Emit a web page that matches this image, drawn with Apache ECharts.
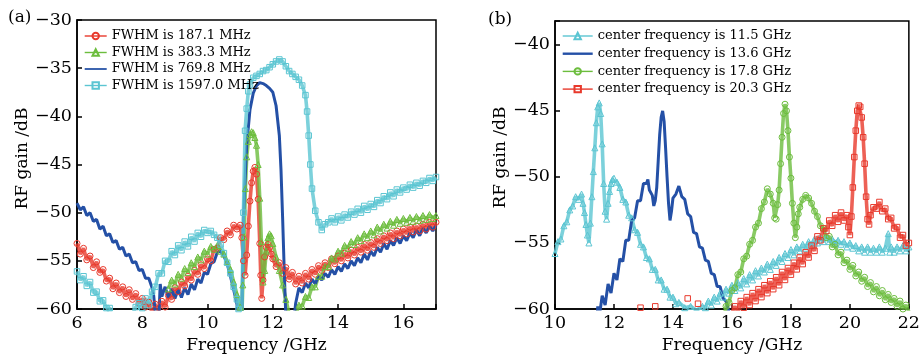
<!DOCTYPE html>
<html><head><meta charset="utf-8">
<script src="https://cdn.jsdelivr.net/npm/echarts@6/dist/echarts.min.js"></script>
<style>html,body{margin:0;padding:0;background:#fff}#c{width:923px;height:359px}</style>
</head><body><div id="c"></div><script>
// ---------- Panel (a): x = frequency (GHz), y = RF gain (dB) ----------
const namesA = ['FWHM is 187.1 MHz','FWHM is 383.3 MHz','FWHM is 769.8 MHz','FWHM is 1597.0 MHz'];
const fwhm187 = [[6.0,-53.2],[6.1,-54.3],[6.2,-53.7],[6.3,-54.9],[6.4,-54.5],[6.5,-55.7],[6.6,-55.1],[6.7,-56.2],[6.8,-55.9],[6.9,-57.1],[7.0,-56.8],[7.1,-57.9],[7.2,-57.3],[7.3,-58.3],[7.4,-57.7],[7.5,-58.7],[7.6,-58.0],[7.7,-59.0],[7.8,-58.4],[7.9,-59.4],[8.0,-58.9],[8.1,-59.8],[8.2,-59.3],[8.3,-60.4],[8.4,-59.5],[8.5,-60.2],[8.6,-59.2],[8.7,-59.8],[8.8,-58.6],[8.9,-59.0],[9.0,-57.8],[9.1,-58.2],[9.2,-57.2],[9.3,-57.6],[9.4,-56.6],[9.5,-57.0],[9.6,-56.0],[9.7,-56.4],[9.8,-55.4],[9.9,-55.8],[10.0,-54.8],[10.1,-55.0],[10.2,-53.8],[10.3,-53.7],[10.4,-52.6],[10.5,-52.8],[10.6,-51.9],[10.7,-52.3],[10.8,-51.3],[10.9,-51.7],[11.0,-51.3],[11.05,-52.6],[11.1,-55.0],[11.15,-56.5],[11.2,-54.4],[11.25,-51.4],[11.3,-48.8],[11.35,-46.9],[11.4,-45.7],[11.45,-45.3],[11.5,-46.0],[11.55,-48.6],[11.6,-53.2],[11.63,-56.5],[11.66,-58.9],[11.7,-57.0],[11.75,-54.6],[11.8,-53.6],[11.85,-53.3],[11.9,-53.6],[11.95,-54.3],[12.0,-54.8],[12.1,-55.6],[12.2,-55.2],[12.3,-56.3],[12.4,-55.7],[12.5,-56.9],[12.6,-56.2],[12.7,-57.4],[12.8,-56.6],[12.9,-57.3],[13.0,-56.3],[13.1,-56.9],[13.2,-55.9],[13.3,-56.4],[13.4,-55.5],[13.5,-56.0],[13.6,-55.2],[13.7,-55.7],[13.8,-54.8],[13.9,-55.3],[14.0,-54.5],[14.1,-55.0],[14.2,-54.2],[14.3,-54.7],[14.4,-53.9],[14.5,-54.4],[14.6,-53.6],[14.7,-54.1],[14.8,-53.3],[14.9,-53.9],[15.0,-53.1],[15.1,-53.6],[15.2,-52.7],[15.3,-53.2],[15.4,-52.4],[15.5,-52.9],[15.6,-52.1],[15.7,-52.7],[15.8,-51.9],[15.9,-52.4],[16.0,-51.7],[16.1,-52.2],[16.2,-51.5],[16.3,-52.0],[16.4,-51.4],[16.5,-51.9],[16.6,-51.2],[16.7,-51.7],[16.8,-51.0],[16.9,-51.5],[17.0,-51.0]];
const fwhm383 = [[8.8,-57.9],[8.9,-57.0],[9.0,-57.4],[9.1,-56.4],[9.2,-56.8],[9.3,-55.8],[9.4,-56.2],[9.5,-55.2],[9.6,-55.6],[9.7,-54.6],[9.8,-54.9],[9.9,-54.0],[10.0,-54.3],[10.1,-53.5],[10.2,-53.8],[10.3,-53.4],[10.4,-54.0],[10.5,-54.3],[10.6,-55.1],[10.7,-55.9],[10.8,-57.2],[10.9,-58.5],[11.0,-59.8],[11.05,-61],[11.08,-57.5],[11.12,-52.5],[11.16,-47.5],[11.2,-44.2],[11.25,-42.6],[11.3,-41.9],[11.35,-41.6],[11.4,-41.7],[11.45,-42.2],[11.5,-43.0],[11.55,-45.0],[11.6,-48.5],[11.65,-53.0],[11.7,-57.2],[11.75,-56.0],[11.8,-54.0],[11.85,-52.6],[11.9,-52.2],[11.95,-52.4],[12.0,-53.2],[12.1,-54.6],[12.2,-56.0],[12.3,-57.5],[12.4,-59.0],[12.5,-60.5],[12.6,-61.5],[12.7,-60.6],[12.8,-59.6],[12.9,-59.7],[13.0,-58.7],[13.1,-58.8],[13.2,-57.7],[13.3,-57.7],[13.4,-56.6],[13.5,-56.6],[13.6,-55.6],[13.7,-55.6],[13.8,-54.7],[13.9,-54.8],[14.0,-54.0],[14.1,-54.2],[14.2,-53.4],[14.3,-53.7],[14.4,-53.0],[14.5,-53.3],[14.6,-52.6],[14.7,-52.9],[14.8,-52.2],[14.9,-52.6],[15.0,-51.9],[15.1,-52.3],[15.2,-51.5],[15.3,-51.9],[15.4,-51.2],[15.5,-51.6],[15.6,-50.9],[15.7,-51.3],[15.8,-50.7],[15.9,-51.1],[16.0,-50.6],[16.1,-51.0],[16.2,-50.5],[16.3,-50.9],[16.4,-50.4],[16.5,-50.8],[16.6,-50.3],[16.7,-50.7],[16.8,-50.2],[16.9,-50.6],[17.0,-50.3]];
const fwhm770 = [[6.0,-49.0],[6.1,-49.7],[6.2,-49.4],[6.3,-50.3],[6.4,-50.0],[6.5,-50.9],[6.6,-50.7],[6.7,-51.7],[6.8,-51.4],[6.9,-52.4],[7.0,-52.2],[7.1,-53.1],[7.2,-52.9],[7.3,-53.8],[7.4,-53.6],[7.5,-54.5],[7.6,-54.3],[7.7,-55.2],[7.8,-55.1],[7.9,-56.0],[8.0,-55.9],[8.1,-56.8],[8.2,-56.8],[8.3,-57.8],[8.35,-58.6],[8.4,-60.5],[8.5,-61.5],[8.55,-57.4],[8.6,-58.7],[8.7,-57.7],[8.8,-58.8],[8.9,-57.9],[9.0,-58.9],[9.1,-58.0],[9.2,-58.8],[9.3,-57.8],[9.4,-58.5],[9.5,-57.4],[9.6,-58.0],[9.7,-56.9],[9.8,-57.3],[9.9,-56.2],[10.0,-56.4],[10.1,-55.3],[10.2,-55.1],[10.3,-54.1],[10.4,-54.0],[10.5,-54.5],[10.6,-55.3],[10.7,-56.6],[10.8,-58.0],[10.9,-59.5],[10.95,-61],[11.0,-62],[11.05,-61],[11.1,-50.5],[11.15,-46.6],[11.2,-43.0],[11.3,-39.3],[11.4,-37.6],[11.5,-36.8],[11.6,-36.5],[11.7,-36.6],[11.8,-36.8],[11.9,-37.1],[12.0,-37.5],[12.1,-38.9],[12.2,-42.0],[12.25,-45.5],[12.3,-50.5],[12.35,-56.0],[12.4,-61],[12.5,-62],[12.65,-61],[12.7,-59.4],[12.8,-57.8],[12.9,-58.3],[13.0,-57.3],[13.1,-57.8],[13.2,-56.9],[13.3,-57.4],[13.4,-56.6],[13.5,-57.0],[13.6,-56.3],[13.7,-56.7],[13.8,-55.9],[13.9,-56.4],[14.0,-55.6],[14.1,-56.1],[14.2,-55.3],[14.3,-55.8],[14.4,-55.0],[14.5,-55.5],[14.6,-54.7],[14.7,-55.2],[14.8,-54.3],[14.9,-54.9],[15.0,-54.0],[15.1,-54.5],[15.2,-53.6],[15.3,-54.1],[15.4,-53.2],[15.5,-53.8],[15.6,-52.9],[15.7,-53.4],[15.8,-52.6],[15.9,-53.2],[16.0,-52.4],[16.1,-52.9],[16.2,-52.1],[16.3,-52.6],[16.4,-51.8],[16.5,-52.4],[16.6,-51.6],[16.7,-52.1],[16.8,-51.4],[16.9,-51.9],[17.0,-51.3]];
const fwhm1597 = [[6.0,-56.1],[6.1,-57.0],[6.2,-56.6],[6.3,-57.6],[6.4,-57.2],[6.5,-58.3],[6.6,-58.2],[6.7,-59.2],[6.8,-59.1],[6.9,-59.9],[7.0,-59.9],[7.1,-60.6],[7.2,-61.2],[7.4,-61.5],[7.6,-61.2],[7.7,-60.5],[7.8,-59.8],[7.9,-59.4],[8.0,-59.9],[8.1,-58.9],[8.2,-59.6],[8.3,-58.2],[8.4,-57.7],[8.5,-56.3],[8.6,-56.3],[8.7,-55.0],[8.8,-55.1],[8.9,-54.0],[9.0,-54.4],[9.1,-53.4],[9.2,-53.9],[9.3,-53.0],[9.4,-53.5],[9.5,-52.5],[9.6,-53.0],[9.7,-52.1],[9.8,-52.5],[9.9,-51.8],[10.0,-52.1],[10.1,-51.9],[10.2,-52.3],[10.3,-52.6],[10.4,-53.3],[10.5,-54.2],[10.6,-55.2],[10.7,-56.3],[10.8,-57.7],[10.9,-59.0],[10.95,-60.0],[11.0,-61],[11.05,-60.5],[11.1,-50.0],[11.15,-41.5],[11.2,-39.2],[11.25,-37.4],[11.3,-36.7],[11.4,-36.0],[11.5,-35.8],[11.6,-35.6],[11.7,-35.3],[11.8,-35.2],[11.9,-34.9],[12.0,-34.6],[12.1,-34.3],[12.2,-34.1],[12.3,-34.3],[12.4,-34.8],[12.5,-35.3],[12.6,-35.6],[12.7,-35.9],[12.8,-36.2],[12.9,-36.8],[13.0,-37.8],[13.05,-39.5],[13.1,-42.0],[13.15,-45.0],[13.2,-47.5],[13.3,-49.8],[13.4,-51.0],[13.5,-51.8],[13.6,-51.2],[13.7,-51.0],[13.8,-50.6],[13.9,-51.0],[14.0,-50.4],[14.1,-50.8],[14.2,-50.2],[14.3,-50.5],[14.4,-49.9],[14.5,-50.2],[14.6,-49.6],[14.7,-50.0],[14.8,-49.3],[14.9,-49.7],[15.0,-49.1],[15.1,-49.4],[15.2,-48.7],[15.3,-49.0],[15.4,-48.3],[15.5,-48.6],[15.6,-47.9],[15.7,-48.3],[15.8,-47.6],[15.9,-47.9],[16.0,-47.4],[16.1,-47.6],[16.2,-47.1],[16.3,-47.4],[16.4,-46.9],[16.5,-47.2],[16.6,-46.7],[16.7,-46.9],[16.8,-46.4],[16.9,-46.7],[17.0,-46.3]];

// ---------- Panel (b) ----------
const namesB = ['center frequency is 11.5 GHz','center frequency is 13.6 GHz','center frequency is 17.8 GHz','center frequency is 20.3 GHz'];
const cf115 = [[10.0,-55.8],[10.1,-54.9],[10.2,-54.7],[10.3,-53.7],[10.4,-53.4],[10.5,-52.5],[10.6,-52.2],[10.7,-51.5],[10.8,-51.7],[10.9,-51.3],[10.95,-52.0],[11.0,-52.7],[11.05,-53.6],[11.1,-54.4],[11.15,-55.0],[11.2,-53.5],[11.25,-51.5],[11.3,-49.6],[11.35,-47.8],[11.4,-45.9],[11.45,-44.7],[11.5,-44.4],[11.55,-45.2],[11.6,-47.5],[11.65,-50.5],[11.7,-52.6],[11.75,-53.2],[11.8,-52.0],[11.85,-51.1],[11.9,-50.5],[11.95,-50.2],[12.0,-50.1],[12.1,-50.4],[12.2,-50.8],[12.3,-51.7],[12.4,-51.9],[12.5,-52.9],[12.6,-53.1],[12.7,-54.0],[12.8,-54.2],[12.9,-55.1],[13.0,-55.3],[13.1,-56.1],[13.2,-56.2],[13.3,-57.0],[13.4,-57.0],[13.5,-57.8],[13.6,-57.8],[13.7,-58.5],[13.8,-58.5],[13.9,-59.1],[14.0,-59.1],[14.1,-59.6],[14.2,-59.5],[14.4,-59.9],[14.6,-59.8],[14.8,-60.1],[15.0,-59.8],[15.1,-59.9],[15.2,-59.4],[15.3,-59.7],[15.4,-59.1],[15.5,-59.4],[15.6,-58.8],[15.7,-59.1],[15.8,-58.5],[15.9,-58.8],[16.0,-58.2],[16.1,-58.6],[16.2,-58.0],[16.3,-58.4],[16.4,-57.7],[16.5,-58.1],[16.6,-57.4],[16.7,-57.8],[16.8,-57.1],[16.9,-57.5],[17.0,-56.9],[17.1,-57.2],[17.2,-56.6],[17.3,-57.0],[17.4,-56.4],[17.5,-56.7],[17.6,-56.1],[17.7,-56.4],[17.8,-55.8],[17.9,-56.1],[18.0,-55.5],[18.1,-55.9],[18.2,-55.3],[18.3,-55.6],[18.4,-55.1],[18.5,-55.4],[18.6,-54.9],[18.7,-55.2],[18.8,-54.7],[18.9,-55.0],[19.0,-54.6],[19.1,-54.9],[19.2,-54.6],[19.3,-54.9],[19.4,-54.7],[19.5,-55.0],[19.6,-54.8],[19.7,-55.1],[19.8,-54.9],[19.9,-55.3],[20.0,-55.0],[20.1,-55.4],[20.2,-55.2],[20.3,-55.6],[20.4,-55.3],[20.5,-55.7],[20.6,-55.3],[20.7,-55.7],[20.8,-55.4],[20.9,-55.7],[21.0,-55.3],[21.1,-55.7],[21.2,-55.4],[21.3,-54.3],[21.35,-55.7],[21.4,-55.3],[21.5,-55.7],[21.6,-55.3],[21.7,-55.6],[21.8,-55.2],[21.9,-55.6],[22.0,-55.3]];
const cf136 = [[11.4,-61.5],[11.45,-59.8],[11.5,-60.6],[11.6,-59.0],[11.7,-59.7],[11.8,-58.1],[11.9,-58.8],[12.0,-57.3],[12.1,-57.8],[12.2,-56.2],[12.3,-56.4],[12.4,-54.8],[12.5,-54.8],[12.6,-53.3],[12.7,-53.1],[12.8,-51.8],[12.9,-51.8],[13.0,-50.5],[13.1,-50.5],[13.15,-50.2],[13.2,-51.0],[13.3,-51.4],[13.35,-52.2],[13.4,-51.8],[13.45,-50.8],[13.5,-48.8],[13.55,-46.8],[13.6,-45.5],[13.65,-45.0],[13.7,-45.8],[13.75,-47.8],[13.8,-50.0],[13.85,-52.0],[13.9,-53.3],[13.95,-52.6],[14.0,-51.6],[14.1,-51.3],[14.2,-50.7],[14.3,-51.5],[14.4,-51.7],[14.5,-52.8],[14.6,-53.0],[14.7,-54.2],[14.8,-54.3],[14.9,-55.3],[15.0,-55.4],[15.1,-56.3],[15.2,-56.4],[15.3,-57.3],[15.4,-57.4],[15.5,-58.3],[15.6,-58.3],[15.7,-59.2],[15.8,-59.4],[15.9,-60.2],[16.0,-61.5]];
const cf178 = [[15.7,-61],[15.8,-59.8],[15.9,-59.5],[16.0,-58.6],[16.1,-58.4],[16.2,-57.4],[16.3,-57.2],[16.4,-56.2],[16.5,-56.0],[16.6,-55.1],[16.7,-54.8],[16.8,-53.8],[16.9,-53.5],[17.0,-52.4],[17.1,-51.9],[17.2,-50.9],[17.3,-51.3],[17.4,-52.0],[17.45,-53.1],[17.5,-53.2],[17.55,-52.1],[17.6,-51.0],[17.65,-49.0],[17.7,-47.0],[17.75,-45.2],[17.8,-44.5],[17.85,-45.0],[17.9,-46.5],[17.95,-48.5],[18.0,-50.1],[18.05,-52.0],[18.1,-53.5],[18.15,-54.6],[18.2,-53.8],[18.25,-52.8],[18.3,-52.3],[18.4,-51.7],[18.5,-51.4],[18.6,-51.6],[18.7,-52.0],[18.8,-52.6],[18.9,-53.0],[19.0,-53.7],[19.1,-53.9],[19.2,-54.6],[19.3,-54.5],[19.4,-55.3],[19.5,-55.1],[19.6,-55.9],[19.7,-55.7],[19.8,-56.5],[19.9,-56.3],[20.0,-57.0],[20.1,-56.7],[20.2,-57.5],[20.3,-57.2],[20.4,-57.9],[20.5,-57.6],[20.6,-58.3],[20.7,-58.0],[20.8,-58.7],[20.9,-58.3],[21.0,-59.0],[21.1,-58.6],[21.2,-59.3],[21.3,-58.9],[21.4,-59.5],[21.5,-59.2],[21.6,-59.8],[21.7,-59.4],[21.8,-60.0],[21.9,-59.7],[22.0,-60.2]];
const cf203 = [[12.9,-59.9],[12.95,null],[13.4,-59.8],[13.45,null],[14.5,-59.2],[14.55,null],[14.85,-59.6],[14.9,null],[15.85,-60.5],[16.0,-60.3],[16.1,-59.8],[16.2,-60.2],[16.3,-59.4],[16.4,-59.9],[16.5,-59.1],[16.6,-59.7],[16.7,-58.8],[16.8,-59.4],[16.9,-58.5],[17.0,-59.1],[17.1,-58.2],[17.2,-58.8],[17.3,-57.9],[17.4,-58.5],[17.5,-57.6],[17.6,-58.2],[17.7,-57.2],[17.8,-57.8],[17.9,-56.9],[18.0,-57.4],[18.1,-56.5],[18.2,-57.0],[18.3,-56.1],[18.4,-56.6],[18.5,-55.7],[18.6,-56.1],[18.7,-55.2],[18.8,-55.6],[18.9,-54.5],[19.0,-54.8],[19.1,-53.9],[19.2,-54.1],[19.3,-53.3],[19.4,-53.7],[19.5,-52.9],[19.6,-53.4],[19.7,-52.7],[19.8,-53.3],[19.9,-52.9],[19.95,-53.8],[20.0,-54.4],[20.05,-53.0],[20.1,-50.8],[20.15,-48.5],[20.2,-46.5],[20.25,-45.0],[20.3,-44.6],[20.35,-44.7],[20.4,-45.5],[20.45,-47.0],[20.5,-49.0],[20.55,-51.5],[20.6,-53.2],[20.65,-53.6],[20.7,-52.9],[20.8,-52.3],[20.9,-52.4],[21.0,-51.9],[21.1,-52.6],[21.2,-52.4],[21.3,-53.2],[21.4,-53.1],[21.5,-53.9],[21.6,-53.8],[21.7,-54.6],[21.8,-54.4],[21.9,-55.2],[22.0,-55.0]];

const RED = '#e8392c', GREEN = '#6cbd3d', BLUE = '#2450a6', CYAN = '#5bc5d2';
const FONT = 'DejaVu Serif';

function markerSeries(name, data, color, symbol, size, idx) {
  return {
    name, type: 'line', data, xAxisIndex: idx, yAxisIndex: idx,
    symbol, symbolSize: size, showSymbol: true, showAllSymbol: true,
    lineStyle: { color, width: 3.6, opacity: 0.8 },
    itemStyle: { color: 'rgba(255,255,255,0)', borderColor: color, borderWidth: 1 },
    emphasis: { disabled: true }, animation: false, connectNulls: false, clip: true
  };
}
function lineSeries(name, data, color, width, idx) {
  return {
    name, type: 'line', data, xAxisIndex: idx, yAxisIndex: idx,
    symbol: 'none', lineStyle: { color, width },
    itemStyle: { color },
    emphasis: { disabled: true }, animation: false, clip: true
  };
}
const minusFmt = v => String(v).replace('-', '\u2212');
function xAxisCfg(idx, min, max) {
  return {
    gridIndex: idx, type: 'value', min, max, interval: 2,
    axisLine: { lineStyle: { color: '#000', width: 1.5 } },
    axisTick: { inside: true, length: 5, lineStyle: { color: '#000', width: 1.5 } },
    axisLabel: { fontFamily: FONT, fontSize: 17.5, color: '#000', margin: 5,
      formatter: v => (Math.abs(v % 2) < 1e-6 ? String(v) : '') },
    splitLine: { show: false },
    name: 'Frequency /GHz', nameLocation: 'middle', nameGap: 27,
    nameTextStyle: { fontFamily: FONT, fontSize: 17, color: '#000' }
  };
}
function yAxisCfg(idx, min, max, gap, pad) {
  return {
    gridIndex: idx, type: 'value', min, max, interval: 5,
    axisLine: { lineStyle: { color: '#000', width: 1.5 } },
    axisTick: { inside: true, length: 5, lineStyle: { color: '#000', width: 1.5 } },
    axisLabel: { fontFamily: FONT, fontSize: 17.5, color: '#000', margin: 5,
      formatter: v => (Math.abs(v % 5) < 1e-6 ? minusFmt(v) : '') },
    splitLine: { show: false },
    name: 'RF gain /dB', nameLocation: 'middle', nameGap: gap,
    nameTextStyle: { fontFamily: FONT, fontSize: 17, color: '#000', padding: [0, 0, 0, pad] }
  };
}
const legendText = { fontFamily: FONT, fontSize: 13, color: '#000', lineHeight: 14 };
const plainLineIcon = 'path://M0,0L30,0L30,2.4L0,2.4Z';

const option = {
  backgroundColor: '#fff',
  animation: false,
  grid: [
    { left: 77, right: 487, top: 20, bottom: 50, show: true, borderColor: '#000', borderWidth: 1.5 },
    { left: 555, right: 10, top: 21, bottom: 50, show: true, borderColor: '#000', borderWidth: 1.5 }
  ],
  xAxis: [xAxisCfg(0, 6, 17), xAxisCfg(1, 10, 22)],
  yAxis: [yAxisCfg(0, -60, -30, 40, 12), yAxisCfg(1, -60, -38.2, 44, 15)],
  legend: [
    { data: [namesA[0], namesA[1], { name: namesA[2], icon: plainLineIcon, itemStyle: { color: BLUE } }, namesA[3]],
      orient: 'vertical', left: 79, top: 24, itemWidth: 22, itemHeight: 8, itemGap: 2.5,
      lineStyle: { width: 1.4, opacity: 1 },
      textStyle: legendText, selectedMode: false },
    { data: [namesB[0], { name: namesB[1], icon: plainLineIcon, itemStyle: { color: BLUE } }, namesB[2], namesB[3]],
      orient: 'vertical', left: 557, top: 24, itemWidth: 30, itemHeight: 8, itemGap: 3.7,
      lineStyle: { width: 1.4, opacity: 1 },
      textStyle: legendText, selectedMode: false }
  ],
  graphic: [
    { type: 'text', left: 8, top: 9, style: { text: '(a)', font: '17px "DejaVu Serif"', fill: '#000' } },
    { type: 'text', left: 488, top: 11, style: { text: '(b)', font: '17px "DejaVu Serif"', fill: '#000' } }
  ],
  series: [
    markerSeries(namesA[0], fwhm187, RED, 'circle', 6, 0),
    markerSeries(namesA[1], fwhm383, GREEN, 'triangle', 6, 0),
    lineSeries(namesA[2], fwhm770, BLUE, 3, 0),
    markerSeries(namesA[3], fwhm1597, CYAN, 'rect', 5.5, 0),
    markerSeries(namesB[0], cf115, CYAN, 'triangle', 6, 1),
    lineSeries(namesB[1], cf136, BLUE, 3, 1),
    markerSeries(namesB[2], cf178, GREEN, 'circle', 6, 1),
    markerSeries(namesB[3], cf203, RED, 'rect', 5.5, 1)
  ]
};
const chart = echarts.init(document.getElementById('c'));
chart.setOption(option);
</script></body></html>
